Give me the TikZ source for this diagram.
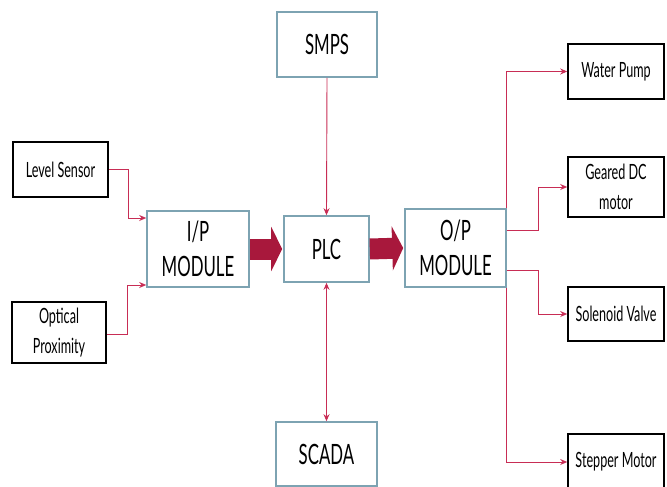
\documentclass[tikz,border=0pt]{standalone}
\usepackage{fontspec}
\setmainfont[FakeStretch=0.6]{Lato}
\usetikzlibrary{arrows.meta,calc}
\definecolor{conncol}{RGB}{200,45,85}
\definecolor{bigcol}{RGB}{168,24,60}
\definecolor{modcol}{RGB}{125,163,178}
\tikzset{
  outbox/.style={draw=black, line width=1.6pt, fill=white, align=center, inner sep=0pt,
    font=\fontsize{21}{30}\selectfont},
  modbox/.style={draw=modcol, line width=1.6pt, fill=white, align=center, inner sep=0pt,
    font=\fontsize{28}{35}\selectfont},
  conn/.style={draw=conncol, line width=0.9pt, -{Stealth[length=7pt,width=6pt]}},
  bigarrow/.style={draw=bigcol, line width=21pt, -{Triangle[length=11pt,width=44pt,fill=bigcol]}, shorten >=1pt}
}
\begin{document}
\begin{tikzpicture}[x=1pt,y=-1pt]
\useasboundingbox (0,0) rectangle (667,487);
% outer input boxes
\node[outbox, minimum width=95pt, minimum height=55pt] (ls) at (60.5,169.5) {Level Sensor};
\node[outbox, minimum width=94pt, minimum height=61pt] (opx) at (59,332.5) {Optical\\Proximity};
% modules
\node[modbox, minimum width=102pt, minimum height=76pt] (ip) at (198,249) {I/P\\MODULE};
\node[modbox, minimum width=100pt, minimum height=65pt] (smps) at (327,44.5) {SMPS};
\node[modbox, minimum width=85pt, minimum height=66pt] (plc) at (326.5,249) {PLC};
\node[modbox, minimum width=101pt, minimum height=78pt] (opm) at (455.5,248) {O/P\\MODULE};
\node[modbox, minimum width=101pt, minimum height=64pt] (scada) at (326.5,454) {SCADA};
% outputs
\node[outbox, minimum width=96pt, minimum height=55pt] (wp) at (616,71.5) {Water Pump};
\node[outbox, minimum width=96pt, minimum height=60pt] (gdc) at (616,187) {Geared DC\\motor};
\node[outbox, minimum width=96pt, minimum height=54pt] (sv) at (616,314) {Solenoid Valve};
\node[outbox, minimum width=96pt, minimum height=56pt] (sm) at (616,462) {Stepper Motor};
% big arrows
\draw[bigarrow] (ip.east) -- (plc.west);
\draw[bigarrow] (plc.east) -- (opm.west);
% input connectors
\draw[conn] (ls.east) -- ++(20,0) |- ($(ip.west)+(0,-31)$);
\draw[conn] ($(opx.east)+(0,1.5)$) -- ++(21,0) |- ($(ip.west)+(0,36)$);
% SMPS and SCADA
\draw[conn] (smps.south) -- (plc.north);
\draw[conn, {Stealth[length=7pt,width=6pt]}-{Stealth[length=7pt,width=6pt]}] (plc.south) -- (scada.north);
% output connectors
\draw[conn] (opm.north east) |- (wp.west);
\draw[conn] ($(opm.east)+(0,-18)$) -- ++(32,0) |- (gdc.west);
\draw[conn] ($(opm.east)+(0,22)$) -- ++(32,0) |- (sv.west);
\draw[conn] (opm.south east) |- (sm.west);
\end{tikzpicture}
\end{document}
